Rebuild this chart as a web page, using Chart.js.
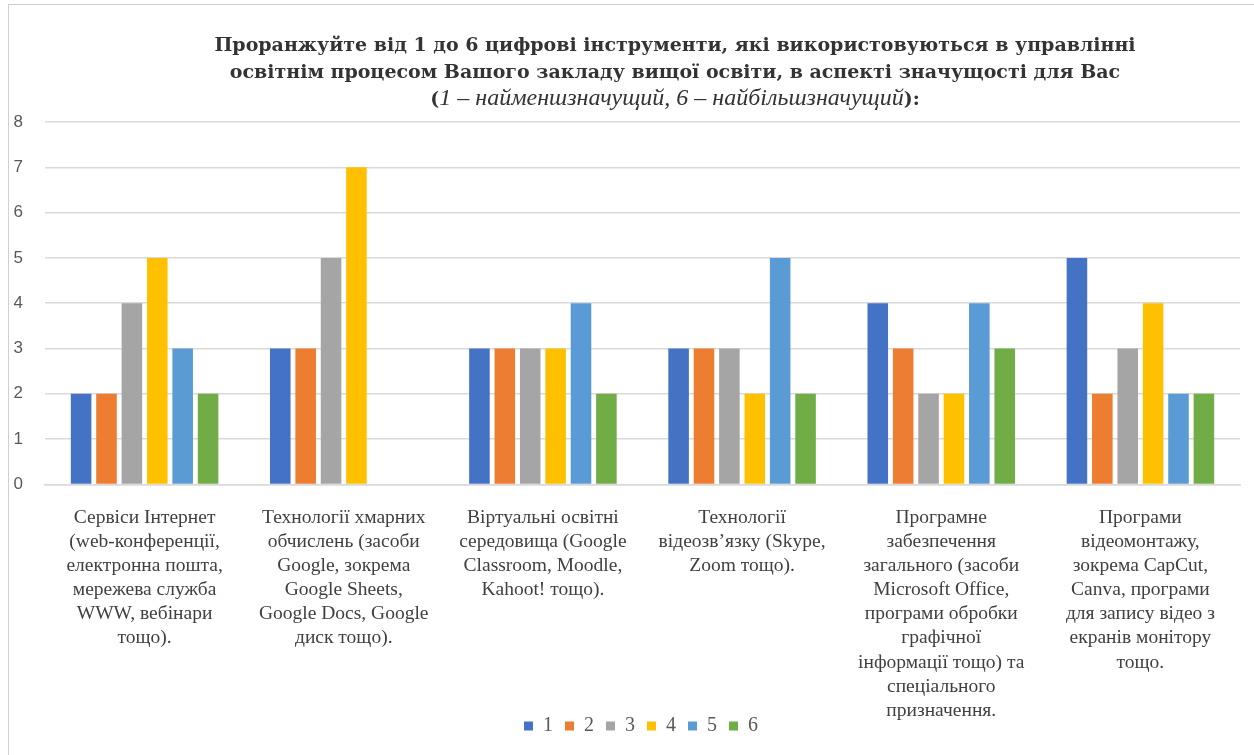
<!DOCTYPE html>
<html>
<head>
<meta charset="utf-8">
<script src="https://cdn.jsdelivr.net/npm/chart.js@4/dist/chart.umd.min.js"></script>
<style>
  html, body { margin: 0; padding: 0; background: #ffffff; }
  #wrap { position: relative; width: 1254px; height: 755px; overflow: hidden; }
  #frame { position: absolute; left: 8px; top: 4px; width: 1260px; height: 780px; border: 1.5px solid #d0d0d0; box-sizing: border-box; pointer-events: none; }
  #title { position: absolute; left: 100px; width: 1150px; top: 31px; text-align: center;
           font-family: "DejaVu Serif", "Liberation Serif", serif; font-size: 19px; line-height: 26.5px; color: #333333; font-weight: bold; }
  #title i { font-weight: normal; font-family: "Liberation Serif", serif; font-size: 24px; }
  canvas { position: absolute; left: 0; top: 0; }
</style>
</head>
<body>
<div id="wrap">
  <canvas id="c" width="1254" height="755"></canvas>
  <div id="title">Проранжуйте від 1 до 6 цифрові інструменти, які використовуються в управлінні<br>освітнім процесом Вашого закладу вищої освіти, в аспекті значущості для Вас<br>(<i>1 – найменшзначущий, 6 – найбільшзначущий</i>):</div>
  <div id="frame"></div>
</div>
<script>
const categories = [
  ["Сервіси Інтернет", "(web-конференції,", "електронна пошта,", "мережева служба", "WWW, вебінари", "тощо)."],
  ["Технології хмарних", "обчислень (засоби", "Google, зокрема", "Google Sheets,", "Google Docs, Google", "диск тощо)."],
  ["Віртуальні освітні", "середовища (Google", "Classroom, Moodle,", "Kahoot! тощо)."],
  ["Технології", "відеозв’язку (Skype,", "Zoom тощо)."],
  ["Програмне", "забезпечення", "загального (засоби", "Microsoft Office,", "програми обробки", "графічної", "інформації тощо) та", "спеціального", "призначення."],
  ["Програми", "відеомонтажу,", "зокрема CapCut,", "Canva, програми", "для запису відео з", "екранів монітору", "тощо."]
];
const seriesNames = ["1", "2", "3", "4", "5", "6"];
const rank1 = [2, 3, 3, 3, 4, 5];
const rank2 = [2, 3, 3, 3, 3, 2];
const rank3 = [4, 5, 3, 3, 2, 3];
const rank4 = [5, 7, 3, 2, 2, 4];
const rank5 = [3, 0, 4, 5, 4, 2];
const rank6 = [2, 0, 2, 2, 3, 2];
const yTicks = [0, 1, 2, 3, 4, 5, 6, 7, 8];
const colors = ["#4472C4", "#ED7D31", "#A5A5A5", "#FFC000", "#5B9BD5", "#70AD47"];

const seriesValues = [rank1, rank2, rank3, rank4, rank5, rank6];
const X_SHRINK = 25;

const layoutTweaks = {
  id: 'layoutTweaks',
  afterLayout(chart) {
    const lg = chart.legend;
    if (lg) { lg.top -= 7; lg.bottom -= 7; lg.left += 16; lg.right += 16; }
    const xs = chart.scales.x;
    if (xs) { xs.bottom += X_SHRINK + 40; }
  }
};

new Chart(document.getElementById('c'), {
  type: 'bar',
  data: {
    labels: categories,
    datasets: seriesValues.map((vals, i) => ({
      label: seriesNames[i],
      data: vals,
      backgroundColor: colors[i],
      borderWidth: 0,
      categoryPercentage: 0.765,
      barPercentage: 0.81
    }))
  },
  options: {
    responsive: false,
    animation: false,
    layout: { padding: { top: 122, left: 10, right: 14, bottom: 2 } },
    plugins: {
      title: { display: false },
      tooltip: { enabled: false },
      legend: {
        position: 'bottom',
        labels: {
          boxWidth: 9, boxHeight: 9, padding: 12,
          color: '#595959',
          font: { family: '"Liberation Serif", serif', size: 20 }
        }
      }
    },
    scales: {
      y: {
        min: 0, max: 8,
        afterBuildTicks: (axis) => { axis.ticks = yTicks.map(v => ({ value: v })); },
        afterFit: (axis) => { axis.width = 35; },
        grid: { color: '#d9d9d9', lineWidth: 1.5, drawTicks: false },
        border: { display: false },
        ticks: {
          padding: 22,
          color: '#595959',
          font: { family: '"Liberation Sans", sans-serif', size: 17 }
        }
      },
      x: {
        grid: { display: false },
        border: { color: '#d9d9d9', width: 1.5 },
        afterFit: (axis) => { axis.height -= X_SHRINK; },
        ticks: {
          autoSkip: false, maxRotation: 0, minRotation: 0,
          padding: 13,
          color: '#404040',
          font: { family: '"Liberation Serif", serif', size: 19.5, lineHeight: 1.24 }
        }
      }
    }
  },
  plugins: [layoutTweaks]
});
</script>
</body>
</html>
